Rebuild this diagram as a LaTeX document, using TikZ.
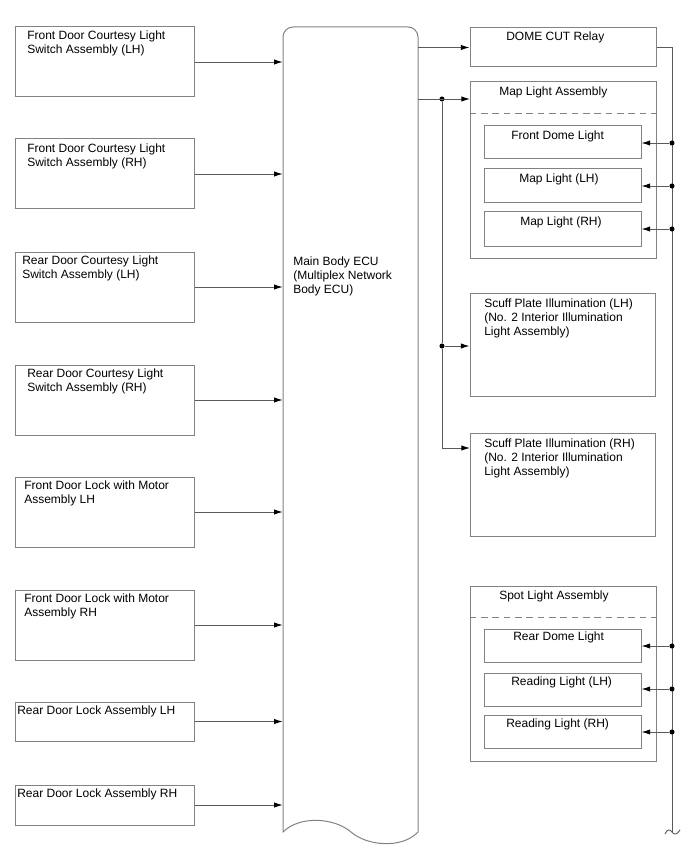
\documentclass[tikz,border=0pt]{standalone}
\usepackage{fontspec}
\setmainfont{Liberation Sans}
\usetikzlibrary{arrows.meta,fit}
\definecolor{boxgray}{RGB}{130,130,130}
\definecolor{linegray}{RGB}{90,90,90}
\begin{document}
\begin{tikzpicture}[x=0.75pt,y=-0.75pt,
  box/.style={draw=boxgray, line width=0.75pt, inner sep=0pt, fit={#1}},
  lbl/.style={anchor=north west, inner sep=0pt, align=left, font=\fontsize{9}{10.5}\selectfont},
  conn/.style={draw=linegray, line width=0.7pt},
  arr/.style={conn, -{Latex[length=6.5pt,width=4pt,color=black,fill=black]}},
  dot/.style={circle, fill=black, inner sep=0pt, minimum size=3.8pt},
  sep/.style={draw=boxgray, line width=0.75pt, dash pattern=on 5pt off 3.5pt}]
\useasboundingbox (0,0) rectangle (688,852);
% left boxes
\node[box={(15,27)(194,97)}] (b1) {};
\node[lbl] (t1) at (27,31) {Front Door Courtesy Light\\Switch Assembly (LH)};
\node[box={(15,139)(194,209)}] (b2) {};
\node[lbl] (t2) at (27,144) {Front Door Courtesy Light\\Switch Assembly (RH)};
\node[box={(15,252)(194,322)}] (b3) {};
\node[lbl] (t3) at (22,256) {Rear Door Courtesy Light\\Switch Assembly (LH)};
\node[box={(15,365)(194,435)}] (b4) {};
\node[lbl] (t4) at (27,369) {Rear Door Courtesy Light\\Switch Assembly (RH)};
\node[box={(15,477)(194,547)}] (b5) {};
\node[lbl] (t5) at (24,481) {Front Door Lock with Motor\\Assembly LH};
\node[box={(15,590)(194,660)}] (b6) {};
\node[lbl] (t6) at (24,594) {Front Door Lock with Motor\\Assembly RH};
\node[box={(15,702)(194,741)}] (b7) {};
\node[lbl] (t7) at (17,706) {Rear Door Lock Assembly LH};
\node[box={(15,785)(194,825)}] (b8) {};
\node[lbl] (t8) at (17,789) {Rear Door Lock Assembly RH};
% ECU
\node[fit={(283,27)(418,832)}, inner sep=0pt] (ecu) {};
\draw[boxgray, line width=0.75pt] (283,832) -- (283,37) arc[start angle=180, end angle=270, radius=10] -- (408,27)
  arc[start angle=270, end angle=360, radius=10] -- (418,832)
  .. controls (402,849) and (367,846) .. (351,832)
  .. controls (335,818) and (300,815) .. (283,832) -- cycle;
\node[lbl] (tecu) at (293,257) {Main Body ECU\\(Multiplex Network\\Body ECU)};
\foreach \b in {b1,b2,b3,b4,b5,b6,b7,b8}
  \draw[arr] (\b.east) -- (\b.east -| ecu.west);
% right boxes
\node[box={(470,28)(656,67)}] (relay) {};
\node[lbl] (trelay) at (506,32) {DOME CUT Relay};
\node[box={(470,82)(656,258)}] (map) {};
\node[lbl] (tmap) at (499,87) {Map Light Assembly};
\draw[sep] (map.west |- 0,114) -- (map.east |- 0,114);
\node[box={(484,126)(641,159)}] (fdl) {};
\node[lbl] (tfdl) at (511,131) {Front Dome Light};
\node[box={(484,169)(641,203)}] (mll) {};
\node[lbl] (tmll) at (519,174) {Map Light (LH)};
\node[box={(484,212)(641,246)}] (mlr) {};
\node[lbl] (tmlr) at (520,217) {Map Light (RH)};
\node[box={(470,293)(655,396)}] (scl) {};
\node[lbl] (tscl) at (484,299) {Scuff Plate Illumination (LH)\\(No. 2 Interior Illumination\\Light Assembly)};
\node[box={(470,433)(655,536)}] (scr) {};
\node[lbl] (tscr) at (484,439) {Scuff Plate Illumination (RH)\\(No. 2 Interior Illumination\\Light Assembly)};
\node[box={(470,586)(656,761)}] (spot) {};
\node[lbl] (tspot) at (499,591) {Spot Light Assembly};
\draw[sep] (spot.west |- 0,617) -- (spot.east |- 0,617);
\node[box={(484,629)(641,662)}] (rdl) {};
\node[lbl] (trdl) at (513,632) {Rear Dome Light};
\node[box={(484,673)(641,706)}] (rll) {};
\node[lbl] (trll) at (511,677) {Reading Light (LH)};
\node[box={(484,715)(641,748)}] (rlr) {};
\node[lbl] (trlr) at (506,719) {Reading Light (RH)};
% ECU outputs
\draw[arr] (relay.west -| ecu.east) -- (relay.west);
\coordinate (mapin) at (470,99);
\coordinate (scrin) at (470,448);
\node[dot] (j1) at (442,99) {};
\node[dot] (j2) at (442,346) {};
\draw[arr] (mapin -| ecu.east) -- (mapin);
\draw[conn] (j1) -- (j2);
\draw[arr] (j2) -- (j2 -| scl.west);
\draw[arr] (j2) |- (scrin);
% right bus
\coordinate (busend) at (672,832);
\draw[conn] (relay.east) -| (busend);
\draw[conn] (665,834) .. controls (667,829) and (670,829) .. (672,832) .. controls (674,835) and (677,835) .. (680,830);
\node[dot] (d1) at (672,143) {};
\node[dot] (d2) at (672,186) {};
\node[dot] (d3) at (672,229) {};
\node[dot] (d4) at (672,646) {};
\node[dot] (d5) at (672,689) {};
\node[dot] (d6) at (672,732) {};
\draw[arr] (d1) -- (d1 -| fdl.east);
\draw[arr] (d2) -- (d2 -| mll.east);
\draw[arr] (d3) -- (d3 -| mlr.east);
\draw[arr] (d4) -- (d4 -| rdl.east);
\draw[arr] (d5) -- (d5 -| rll.east);
\draw[arr] (d6) -- (d6 -| rlr.east);
\end{tikzpicture}
\end{document}
